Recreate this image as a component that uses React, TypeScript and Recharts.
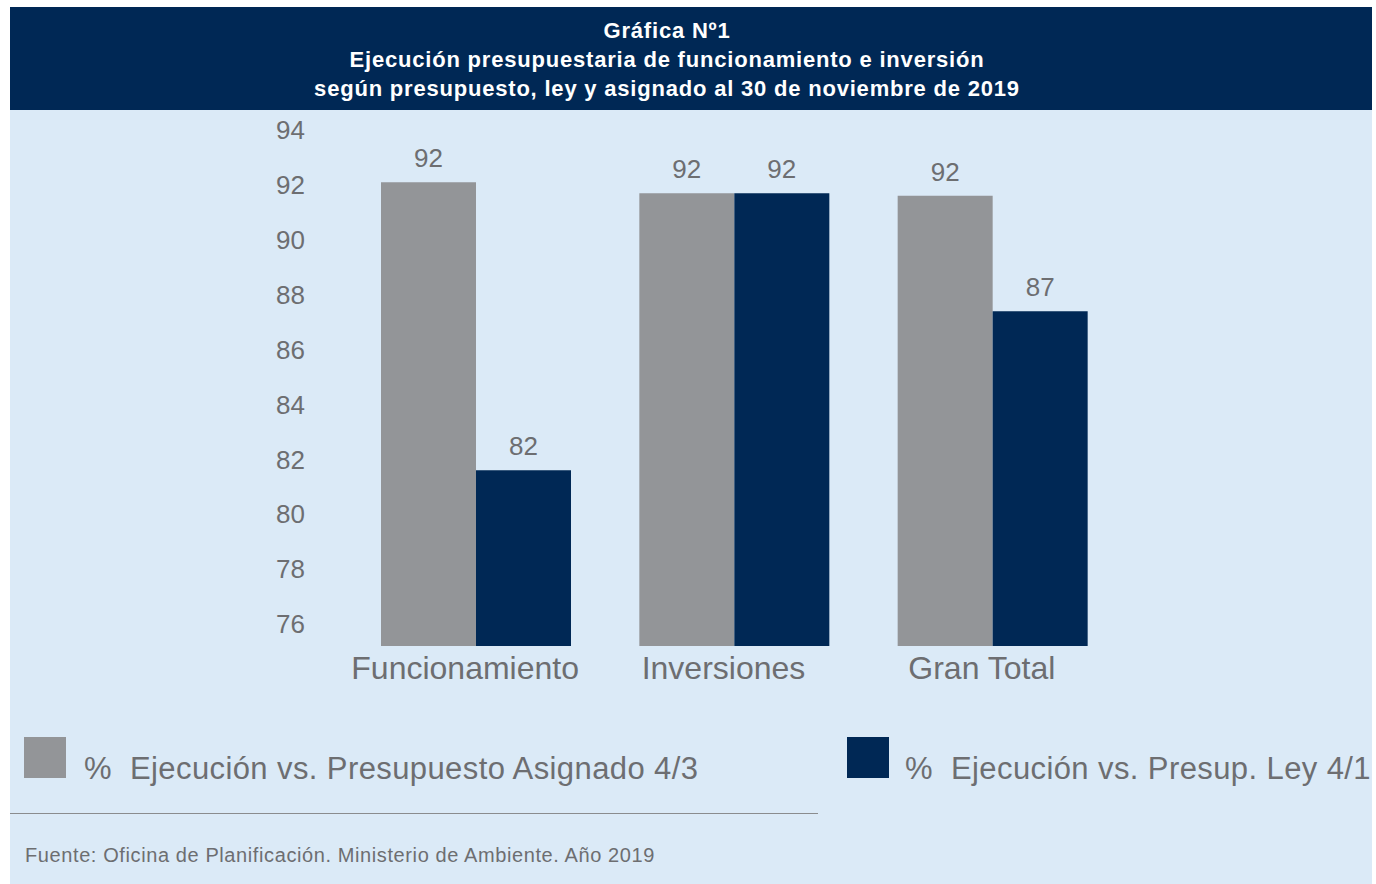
import React from 'react';
import { BarChart, Bar, XAxis, YAxis, LabelList } from 'recharts';

// Data
const categories = ['Funcionamiento', 'Inversiones', 'Gran Total'];
const asignado = [92.1, 91.7, 91.6];
const ley = [81.6, 91.7, 87.4];
const yTicks = [76, 78, 80, 82, 84, 86, 88, 90, 92, 94];

const seriesNames = [
  '%  Ejecución vs. Presupuesto Asignado 4/3',
  '%  Ejecución vs. Presup. Ley 4/1',
];

const NAVY = '#002855';
const GRAY = '#939598';
const TEXT = '#6d6e71';
const BG = '#dbeaf7';
const FONT = '"Liberation Sans", Arial, sans-serif';

const data = categories.map((name, i) => ({
  name,
  asignado: asignado[i],
  ley: ley[i],
}));

const fmt = (v: any) => Math.round(Number(v)).toString();

const legendText: React.CSSProperties = {
  position: 'absolute',
  top: 744,
  fontSize: 31,
  lineHeight: '36px',
  letterSpacing: 0.4,
  color: TEXT,
  whiteSpace: 'pre',
};

export default function App() {
  return (
    <div
      style={{
        position: 'absolute',
        left: 10,
        top: 7,
        width: 1362,
        height: 877,
        background: BG,
        fontFamily: FONT,
      }}
    >
      {/* header band */}
      <div
        style={{
          height: 103,
          background: NAVY,
          color: 'white',
          fontWeight: 'bold',
          fontSize: 22,
          letterSpacing: 0.8,
          lineHeight: '29px',
          textAlign: 'center',
          paddingTop: 9,
          paddingRight: 48,
          boxSizing: 'border-box',
        }}
      >
        <div>Gráfica Nº1</div>
        <div>Ejecución presupuestaria de funcionamiento e inversión</div>
        <div>según presupuesto, ley y asignado al 30 de noviembre de 2019</div>
      </div>

      <div style={{ position: 'absolute', left: 0, top: 103 }}>
        <BarChart
          width={1362}
          height={610}
          data={data}
          margin={{ top: 20, right: 250, bottom: 0, left: 0 }}
          barGap={0}
        >
          <XAxis
            dataKey="name"
            axisLine={false}
            tickLine={false}
            tickSize={0}
            tickMargin={10}
            height={74}
            dx={-11}
            tick={{ fontSize: 32, fill: TEXT, fontFamily: FONT }}
          />
          <YAxis
            type="number"
            domain={[75.2, 94]}
            ticks={yTicks}
            axisLine={false}
            tickLine={false}
            tickSize={0}
            tickMargin={42}
            width={337}
            tick={{ fontSize: 26, fill: TEXT, fontFamily: FONT }}
          />
          <Bar dataKey="asignado" fill={GRAY} barSize={95} isAnimationActive={false}>
            <LabelList
              dataKey="asignado"
              position="top"
              offset={15}
              formatter={fmt}
              style={{ fontSize: 26, fill: TEXT, fontFamily: FONT }}
            />
          </Bar>
          <Bar dataKey="ley" fill={NAVY} barSize={95} isAnimationActive={false}>
            <LabelList
              dataKey="ley"
              position="top"
              offset={15}
              formatter={fmt}
              style={{ fontSize: 26, fill: TEXT, fontFamily: FONT }}
            />
          </Bar>
        </BarChart>
      </div>

      {/* legend */}
      <div style={{ position: 'absolute', left: 14, top: 730, width: 42, height: 41, background: GRAY }} />
      <div style={{ ...legendText, left: 74 }}>{seriesNames[0]}</div>
      <div style={{ position: 'absolute', left: 837, top: 730, width: 42, height: 41, background: NAVY }} />
      <div style={{ ...legendText, left: 895 }}>{seriesNames[1]}</div>

      {/* divider and source */}
      <div style={{ position: 'absolute', left: 0, top: 806, width: 808, height: 1, background: '#8a8c8e' }} />
      <div
        style={{
          position: 'absolute',
          left: 15,
          top: 836,
          fontSize: 20,
          letterSpacing: 0.6,
          lineHeight: '24px',
          color: TEXT,
        }}
      >
        Fuente: Oficina de Planificación. Ministerio de Ambiente. Año 2019
      </div>
    </div>
  );
}
